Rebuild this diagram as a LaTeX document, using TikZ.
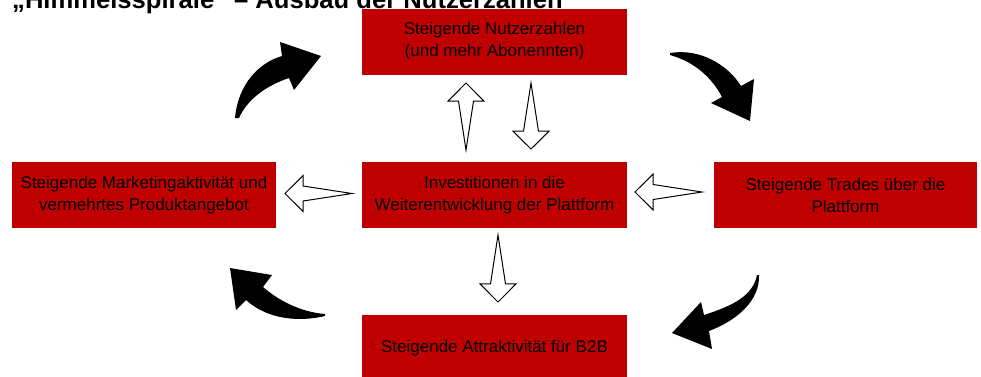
\documentclass[tikz,border=0pt]{standalone}
\usepackage{fontspec}
\setmainfont{Liberation Sans}
\usetikzlibrary{calc}

\definecolor{boxred}{HTML}{C00000}

\tikzset{
  box/.style={fill=boxred, minimum width=265pt, minimum height=66pt, inner sep=0pt,
    align=center, font=\fontsize{17}{22}\selectfont},
  hollow/.style={draw=black, fill=white, line width=1pt, line join=miter},
  bent/.style={fill=black}
}

% tapered block arrow: #1 tail, #2 tip
\newcommand{\hollowarrow}[2]{%
  \draw[hollow] (#1) -- ($(#2)!0.27!(#1)!7.5pt!90:(#1)$)
    -- ($(#2)!0.27!(#1)!18pt!90:(#1)$) -- (#2)
    -- ($(#2)!0.27!(#1)!18pt!-90:(#1)$)
    -- ($(#2)!0.27!(#1)!7.5pt!-90:(#1)$) -- cycle;}

\begin{document}
\begin{tikzpicture}[x=1pt,y=-1pt]
\useasboundingbox (0,0) rectangle (981,376);
\clip (0,0) rectangle (981,376);

\node[anchor=base west, inner sep=0pt, font=\fontsize{25.6}{30}\selectfont\bfseries] (title) at (12,8)
  {„Himmelsspirale“ – Ausbau der Nutzerzahlen};

\node[box] (users) at (494.5,41.5) {Steigende Nutzerzahlen\\(und mehr Abonennten)};
\node[box, minimum width=264pt] (marketing) at (144,195) {Steigende Marketingaktivität und\\vermehrtes Produktangebot};
\node[box] (invest) at (494.5,195) {Investitionen in die\\Weiterentwicklung der Plattform};
\node[box, minimum width=263pt] (trades) at (845.5,195) {Steigende Trades über die\\Plattform};
\node[box] (btob) at (494.5,348) {Steigende Attraktivität für B2B};

\coordinate (upTail) at (466,150);
\coordinate (upTip) at (466,83);
\coordinate (downTail) at (531,83);
\coordinate (downTip) at (531,149);
\coordinate (btobTail) at (498,235);
\coordinate (btobTip) at (498,302);
\coordinate (leftTail) at (352,193.5);
\coordinate (leftTip) at (285,193.5);
\coordinate (rightTail) at (702,192);
\coordinate (rightTip) at (635,192);

\hollowarrow{upTail}{upTip}
\hollowarrow{downTail}{downTip}
\hollowarrow{btobTail}{btobTip}
\hollowarrow{leftTail}{leftTip}
\hollowarrow{rightTail}{rightTip}

% curved arrows round the cycle
\fill[bent] (235,118) .. controls (238,85) and (258,63) .. (282,56)
  -- (280,42) -- (321,56) -- (294,90) -- (289,78)
  .. controls (268,85) and (248,98) .. (239,118) -- cycle;
\fill[bent] (670,53) .. controls (700,48) and (728,65) .. (741,86)
  -- (754,79) -- (750,121) -- (711,103) -- (722,97)
  .. controls (712,78) and (695,62) .. (670,55) -- cycle;
\fill[bent] (759,275) .. controls (760,300) and (738,320) .. (709,331)
  -- (712,349) -- (672,333) -- (701,302) -- (704,315)
  .. controls (735,305) and (753,295) .. (757,275) -- cycle;
\fill[bent] (325,314) .. controls (300,312) and (278,300) .. (263,287)
  -- (272,275) -- (230,268) -- (236,310) -- (246,300)
  .. controls (268,320) and (300,322) .. (325,316) -- cycle;

\end{tikzpicture}
\end{document}
